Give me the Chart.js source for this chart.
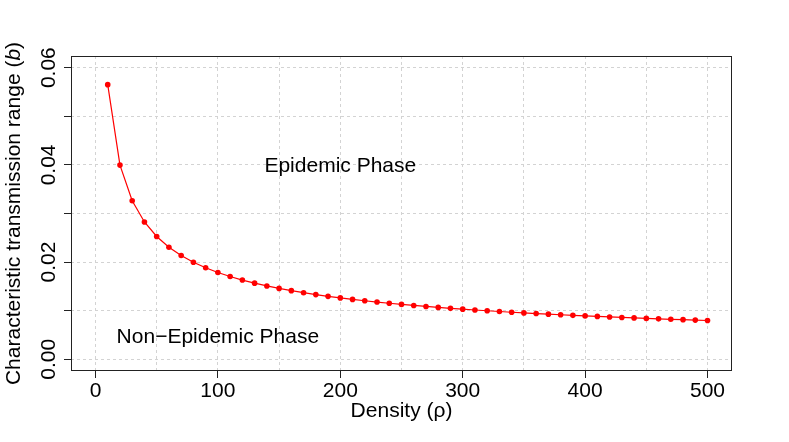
<!DOCTYPE html>
<html>
<head>
<meta charset="utf-8">
<script src="https://cdn.jsdelivr.net/npm/chart.js@4"></script>
<style>
    body { margin: 0; background: #fff; }
    #wrap { width: 789px; height: 442px; }
</style>
</head>
<body>
<div id="wrap"><canvas id="chart" width="789" height="442"></canvas></div>
<script>
// density values and characteristic transmission range
const density = [10, 20, 30, 40, 50, 60, 70, 80, 90, 100,
    110, 120, 130, 140, 150, 160, 170, 180, 190, 200,
    210, 220, 230, 240, 250, 260, 270, 280, 290, 300,
    310, 320, 330, 340, 350, 360, 370, 380, 390, 400,
    410, 420, 430, 440, 450, 460, 470, 480, 490, 500];
const range = [0.05651, 0.03996, 0.03263, 0.02826, 0.02527, 0.02307, 0.02136, 0.01998, 0.01884, 0.01787,
    0.01704, 0.01631, 0.01567, 0.01510, 0.01459, 0.01413, 0.01371, 0.01332, 0.01296, 0.01264,
    0.01233, 0.01205, 0.01178, 0.01154, 0.01130, 0.01108, 0.01088, 0.01068, 0.01049, 0.01032,
    0.01015, 0.00999, 0.00984, 0.00969, 0.00955, 0.00942, 0.00929, 0.00917, 0.00905, 0.00894,
    0.00883, 0.00872, 0.00862, 0.00852, 0.00842, 0.00833, 0.00824, 0.00816, 0.00807, 0.00799];

const xGrid = [0, 50, 100, 150, 200, 250, 300, 350, 400, 450, 500];
const xLabels = [0, 100, 200, 300, 400, 500];
const yGrid = [0, 0.01, 0.02, 0.03, 0.04, 0.05, 0.06];
const yLabels = [0, 0.02, 0.04, 0.06];

const phaseText = ['Epidemic Phase', 'Non\u2212Epidemic Phase'];
const phaseX = [200, 100];
const phaseY = [0.04, 0.005];

const FONT = '"Liberation Sans", Arial, Helvetica, sans-serif';
const SIZE = 21;

const axisText = {
    id: 'axisText',
    afterDraw(chart) {
        const { ctx, chartArea, scales } = chart;
        const xs = scales.x, ys = scales.y;
        ctx.save();

        // box round the plot
        ctx.strokeStyle = '#222';
        ctx.lineWidth = 1;
        ctx.strokeRect(chartArea.left + 0.5, chartArea.top + 0.5,
            chartArea.right - chartArea.left - 1, chartArea.bottom - chartArea.top - 1);

        ctx.fillStyle = '#000';
        ctx.font = SIZE + 'px ' + FONT;
        ctx.textBaseline = 'alphabetic';

        // x tick labels
        ctx.textAlign = 'center';
        xLabels.forEach(v => {
            ctx.fillText(String(v), xs.getPixelForValue(v), 397);
        });

        // x title
        ctx.fillText('Density (\u03c1)', (chartArea.left + chartArea.right) / 2, 417);

        // y tick labels, rotated like R's default
        yLabels.forEach(v => {
            ctx.save();
            ctx.translate(55, ys.getPixelForValue(v));
            ctx.rotate(-Math.PI / 2);
            ctx.fillText(v.toFixed(2), 0, 0);
            ctx.restore();
        });

        // y title with italic b
        const parts = [
            ['Characteristic transmission range (', ''],
            ['b', 'italic '],
            [')', '']
        ];
        let total = 0;
        parts.forEach(p => {
            ctx.font = p[1] + SIZE + 'px ' + FONT;
            total += ctx.measureText(p[0]).width;
        });
        ctx.save();
        ctx.translate(19.5, (chartArea.top + chartArea.bottom) / 2);
        ctx.rotate(-Math.PI / 2);
        ctx.textAlign = 'left';
        let pos = -total / 2;
        parts.forEach(p => {
            ctx.font = p[1] + SIZE + 'px ' + FONT;
            ctx.fillText(p[0], pos, 0);
            pos += ctx.measureText(p[0]).width;
        });
        ctx.restore();

        // phase annotations
        ctx.font = SIZE + 'px ' + FONT;
        ctx.textAlign = 'center';
        phaseText.forEach((t, i) => {
            ctx.fillText(t, xs.getPixelForValue(phaseX[i]), ys.getPixelForValue(phaseY[i]) + 7.5);
        });

        ctx.restore();
    }
};

const data = {
    datasets: [{
        data: density.map((d, i) => ({ x: d, y: range[i] })),
        borderColor: '#ff0000',
        backgroundColor: '#ff0000',
        borderWidth: 1.2,
        pointRadius: 2.8,
        pointBorderWidth: 0,
        pointBackgroundColor: '#ff0000',
        tension: 0
    }]
};

const gridStyle = {
    color: '#d3d3d3',
    lineWidth: 1,
    drawTicks: true,
    tickLength: 7,
    tickBorderDash: [],
    tickWidth: 1
};

const config = {
    type: 'line',
    data,
    options: {
        responsive: false,
        animation: false,
        layout: {
            padding: { top: 56, right: 57, left: 0, bottom: 0 }
        },
        plugins: {
            legend: false,
            tooltip: { enabled: false }
        },
        scales: {
            x: {
                type: 'linear',
                min: -20,
                max: 520,
                afterBuildTicks: scale => {
                    scale.ticks = xGrid.map(v => ({ value: v }));
                },
                afterFit: scale => { scale.height = 71; },
                ticks: { display: false },
                border: { display: false, dash: [3, 3] },
                grid: {
                    ...gridStyle,
                    tickColor: ctx => xLabels.includes(ctx.tick.value) ? '#222' : 'rgba(0,0,0,0)'
                }
            },
            y: {
                min: -0.0024,
                max: 0.0624,
                afterBuildTicks: scale => {
                    scale.ticks = yGrid.map(v => ({ value: v }));
                },
                afterFit: scale => { scale.width = 71; },
                ticks: { display: false },
                border: { display: false, dash: [3, 3] },
                grid: {
                    ...gridStyle,
                    tickColor: '#222'
                }
            }
        }
    },
    plugins: [axisText]
};

const myChart = new Chart(document.getElementById('chart'), config);
</script>
</body>
</html>
